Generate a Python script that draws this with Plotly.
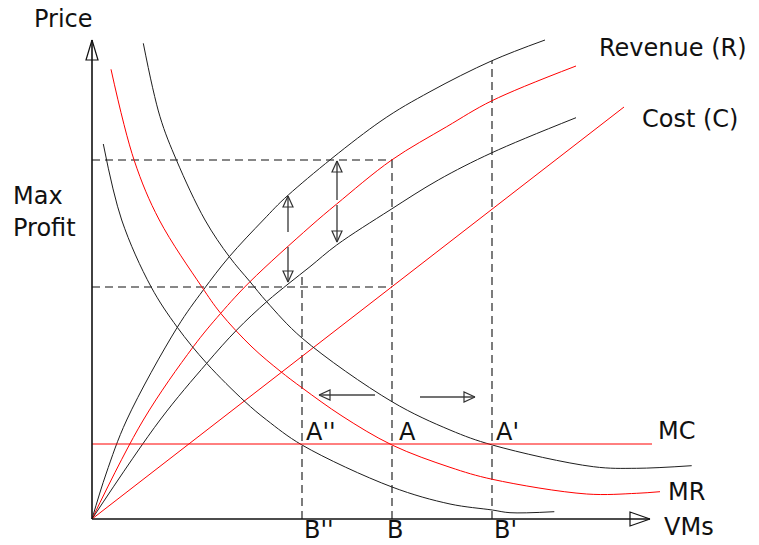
import plotly.graph_objects as go

# ---- data (quantity q, price p); origin at the axes corner ----
# upper black rising curve
upper_rise_q = [0, 14, 34.7, 85.3, 111.3, 137.3, 171.3, 196.3, 288, 338, 400, 453]
upper_rise_p = [0, 45, 99, 191.7, 229, 262.3, 299, 324, 397.3, 427.3, 458.3, 479]
# Revenue (R), red
revenue_q = [0, 51.3, 101.3, 128.7, 158, 218, 244.7, 299.7, 354.7, 400, 484]
revenue_p = [0, 99, 172.3, 205.7, 237.3, 292.3, 315, 359, 392.3, 418.3, 453]
# lower black rising curve
lower_rise_q = [0, 68, 114.7, 144.7, 174.7, 197, 218, 244.7, 298, 346.3, 400, 484]
lower_rise_p = [0, 99, 155.7, 189, 217.3, 235.7, 252.3, 274, 309, 339, 366.3, 401.3]
# Cost (C), red straight line
cost_q = [0, 532]
cost_p = [0, 412]
# upper black falling curve
upper_fall_q = [51.3, 68, 84.7, 113, 137.3, 158, 174.7, 210.3, 300, 358, 400.3, 501.3, 544.7, 599.7]
upper_fall_p = [475.7, 402.3, 358.3, 299, 262.3, 237.3, 217.3, 180.7, 117.3, 89, 74, 52.3, 50.7, 53.3]
# MR, red falling curve
mr_q = [19, 42.3, 67.3, 109.7, 128.7, 160, 188, 210.3, 250, 300, 358, 400.3, 494.7, 544.7, 568]
mr_p = [449.7, 358.3, 299, 232.3, 205.7, 172, 148, 131, 103, 74, 51.7, 39.7, 25, 25.7, 27.3]
# lower black falling curve
lower_fall_q = [11.3, 29.7, 59, 85.3, 114.7, 153, 174.7, 210, 300, 358, 400.3, 418, 462.3]
lower_fall_p = [375, 299, 232.3, 191.7, 155.7, 117.3, 99, 74, 32, 15, 9, 6.3, 7.3]
# MC level
mc_q = [0, 560]
mc_p = [75, 75]
# quantities B'', B, B' and their curve heights
b_q = [210, 300, 400]
b_top_p = [247, 359, 458]
b_labels = ["B''", "B", "B'"]
a_labels = ["A''", "A", "A'"]
# price levels of the dashed guides
guide_p = [359, 232]
guide_q_end = 300

BLACK = "#1e1e1e"
RED = "#ff0000"
FONT = dict(family="DejaVu Sans", size=24, color="#111")

fig = go.Figure()


def line(q, p, color, width=1.0, dash=None, spline=True):
    fig.add_trace(go.Scatter(
        x=q, y=p, mode="lines", hoverinfo="skip",
        line=dict(color=color, width=width, dash=dash,
                  shape="spline" if spline else "linear", smoothing=1.0)))


def tri(tip_q, tip_p, dq, dp, length, half, color="#222"):
    # open triangle head pointing in direction (dq, dp)
    bq, bp = tip_q - dq * length, tip_p - dp * length
    nq, np_ = -dp, dq
    xs = [tip_q, bq + nq * half, bq - nq * half, tip_q]
    ys = [tip_p, bp + np_ * half, bp - np_ * half, tip_p]
    fig.add_trace(go.Scatter(x=xs, y=ys, mode="lines", hoverinfo="skip",
                             line=dict(color=color, width=1.2)))


# dashed guides
for gp in guide_p:
    line([0, guide_q_end], [gp, gp], "#111", 1.1, dash="8px,5px", spline=False)
for bq, bt in zip(b_q, b_top_p):
    line([bq, bq], [0, bt], "#111", 1.1, dash="8px,5px", spline=False)

# curves
line(upper_rise_q, upper_rise_p, BLACK)
line(revenue_q, revenue_p, RED)
line(lower_rise_q, lower_rise_p, BLACK)
line(cost_q, cost_p, RED, spline=False)
line(upper_fall_q, upper_fall_p, BLACK)
line(mr_q, mr_p, RED)
line(lower_fall_q, lower_fall_p, BLACK)
line(mc_q, mc_p, RED, spline=False)

# axes with open arrow heads
line([0, 0], [0, 479], "#111", 1.6, spline=False)
line([0, 558], [0, 0], "#111", 1.6, spline=False)
tri(0, 479, 0, 1, 20, 6, "#111")
tri(558, 0, 1, 0, 20, 7, "#111")

# vertical double arrows (q, tail p, tip p)
vert_arrows = [(196, 287, 323), (196, 272, 237), (245, 319, 358), (245, 314, 277)]
for q, tail, tip in vert_arrows:
    line([q, q], [tail, tip], "#444", 1.4, spline=False)
    d = 1 if tip > tail else -1
    tri(q, tip, 0, d, 11, 5, "#333")

# horizontal arrows (p, tail q, tip q)
horiz_arrows = [(124, 283, 227), (122, 328, 383)]
for p, tail, tip in horiz_arrows:
    line([tail, tip], [p, p], "#444", 1.4, spline=False)
    d = 1 if tip > tail else -1
    tri(tip, p, d, 0, 11, 5, "#333")

# labels
ann = [
    ("Price", -29, 500, "center"),
    ("Revenue (R)", 581, 471, "center"),
    ("Cost (C)", 598, 400, "center"),
    ("Max", -81, 323, "left"),
    ("Profit", -81, 291, "left"),
    ("MC", 564, 88, "left"),
    ("MR", 574, 27, "left"),
    ("VMs", 570, -8, "left"),
]
for lab, q in zip(a_labels, [212, 305, 402]):
    ann.append((lab, q, 87, "left"))
for lab, q in zip(b_labels, [210, 293, 400]):
    ann.append((lab, q, -11, "left"))

for text, q, p, xa in ann:
    fig.add_annotation(x=q, y=p, text=text, showarrow=False, xanchor=xa,
                       yanchor="middle", font=FONT, xref="x", yref="y")

fig.update_layout(
    width=759, height=545, margin=dict(l=0, r=0, t=0, b=0),
    paper_bgcolor="white", plot_bgcolor="white", showlegend=False,
    xaxis=dict(range=[-92, 667], visible=False, fixedrange=True),
    yaxis=dict(range=[-26, 519], visible=False, fixedrange=True),
)
fig.write_html("out.html", config={"displayModeBar": False},
               post_script="document.body.style.margin='0';document.body.style.overflow='hidden';")
